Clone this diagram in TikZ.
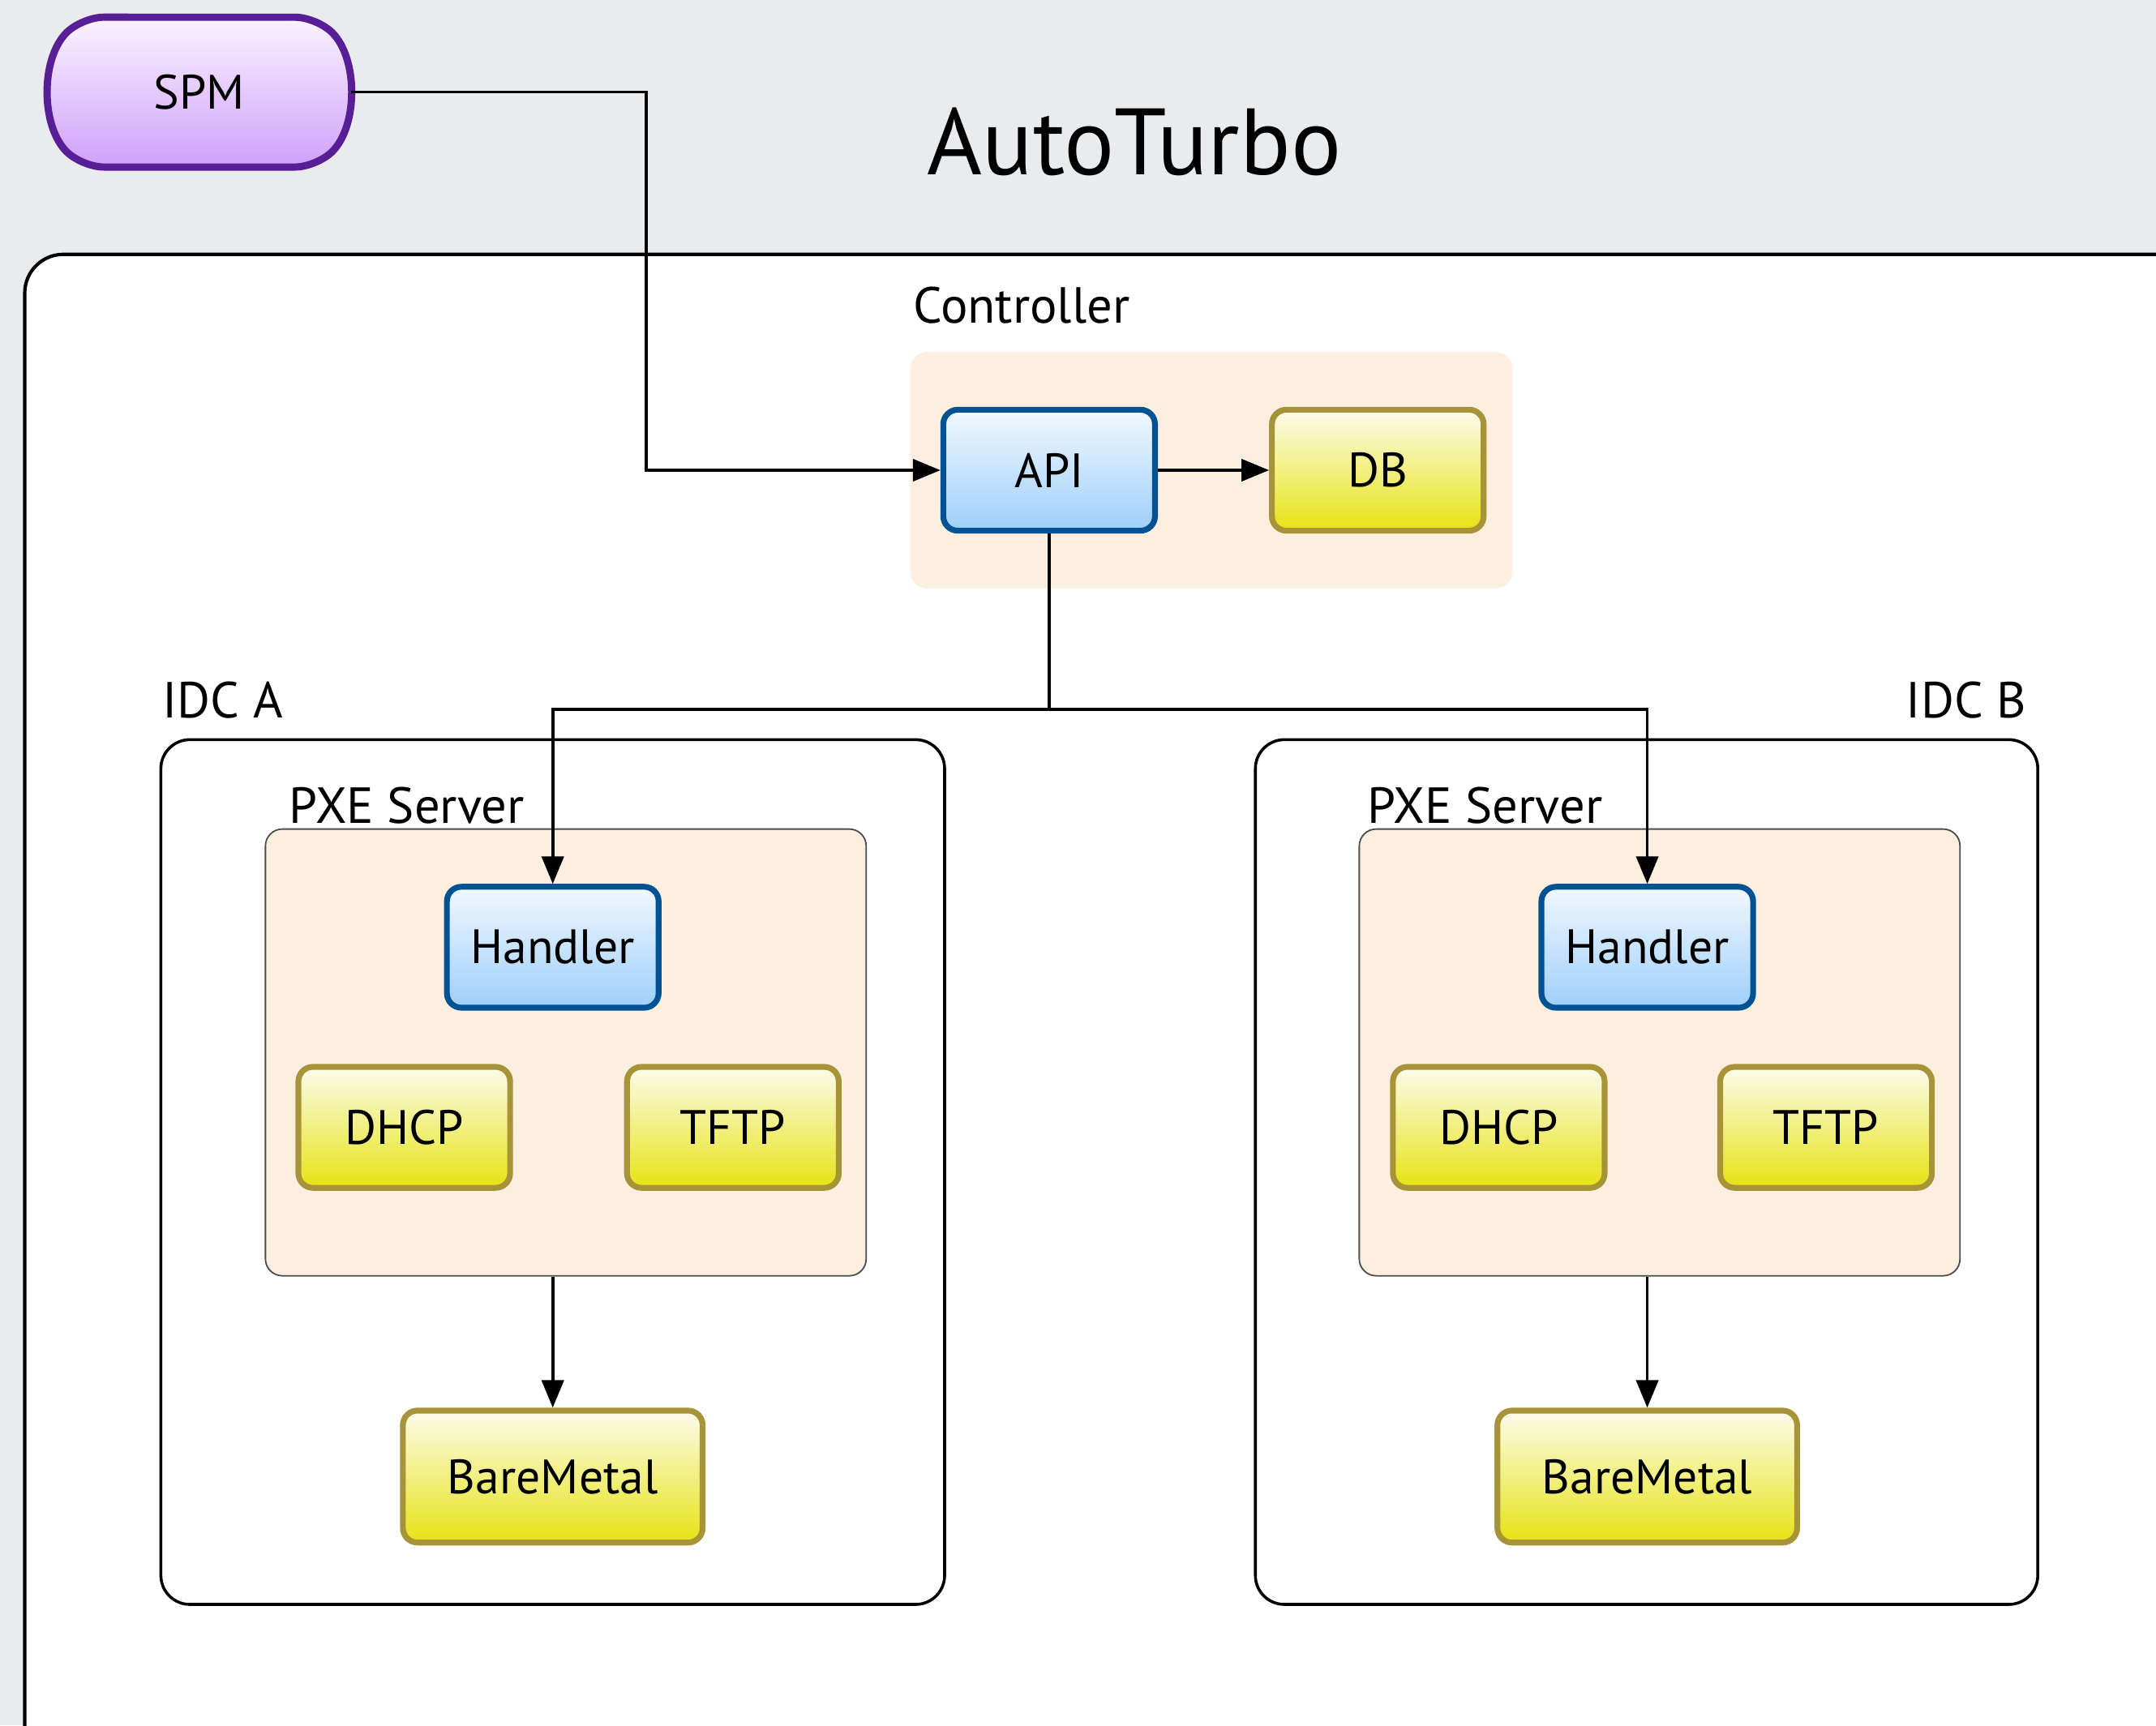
\documentclass[tikz,border=0pt]{standalone}
\usepackage{fontspec}
\setmainfont{PT Sans}
\usepackage{tikz}
\usetikzlibrary{arrows.meta,shapes.misc,calc}
\definecolor{bggray}{RGB}{233,235,237}
\definecolor{peach}{RGB}{253,239,223}
\definecolor{bluedraw}{RGB}{0,82,147}
\definecolor{bluetop}{RGB}{242,248,255}
\definecolor{bluebot}{RGB}{158,207,250}
\definecolor{ydraw}{RGB}{168,148,56}
\definecolor{ytop}{RGB}{252,252,236}
\definecolor{ybot}{RGB}{230,227,20}
\definecolor{pdraw}{RGB}{88,30,150}
\definecolor{ptop}{RGB}{250,244,255}
\definecolor{pbot}{RGB}{208,160,250}
\tikzstyle{comp}=[draw,line width=2.4pt,rounded corners=6pt,minimum width=3.08cm,minimum height=1.76cm,
                  font=\fontsize{20}{24}\selectfont,inner sep=0]
\tikzstyle{svc}=[comp,draw=bluedraw,top color=bluetop,bottom color=bluebot]
\tikzstyle{store}=[comp,draw=ydraw,top color=ytop,bottom color=ybot]
\tikzstyle{client}=[comp,rounded corners=9pt,rounded rectangle,rounded rectangle arc length=90,
                    draw=pdraw,line width=3pt,top color=ptop,bottom color=pbot,
                    minimum width=4.32cm,minimum height=2.18cm]
\tikzstyle{group}=[fill=peach,rounded corners=7pt]
\tikzstyle{pxe}=[draw=black!70,line width=0.6pt,fill=peach,rounded corners=7pt,
                 minimum width=8.74cm,minimum height=6.5cm,inner sep=0]
\tikzstyle{site}=[draw,line width=1.2pt,rounded corners=12pt,fill=white]
\tikzstyle{tag}=[font=\fontsize{21}{25}\selectfont,inner sep=0]
\tikzstyle{conn}=[line width=1.2pt,-{Triangle[length=0.4cm,width=0.32cm]}]

\begin{document}
\begin{tikzpicture}[x=0.02cm,y=-0.02cm]
  \useasboundingbox (0,0) rectangle (1568,1255);
  \clip (0,0) rectangle (1568,1255);
  \fill[bggray] (0,0) rectangle (1568,1255);

  % TITLE & OUTER FRAME
  \node[font=\fontsize{39}{44}\selectfont] (title) at (825,103) {AutoTurbo};
  \draw[site,line width=1.4pt,rounded corners=16pt] (18,185) rectangle (1700,1400);

  % CONTROLLER
  \fill[group] (662,256) rectangle (1100,428);
  \node[tag,anchor=west] (ctrl) at (664,222) {Controller};
  \node[svc] (api) at (763,342) {API};
  \node[store] (db) at (1002,342) {DB};

  % SPM
  \node[client] (spm) at (145,67) {SPM};

  % IDC A
  \draw[site] (117,538) rectangle (687,1167);
  \node[tag,anchor=west] (idcA) at (118,509) {IDC A};
  \node[pxe] (pxeA) at (411.5,765.5) {};
  \node[tag,anchor=west] (pxeAlab) at (210,586) {PXE Server};
  \node[svc] (handlerA) at (402,689) {Handler};
  \node[store] (dhcpA) at (294,820) {DHCP};
  \node[store] (tftpA) at (533,820) {TFTP};
  \node[store,minimum width=4.36cm,minimum height=1.92cm] (bmA) at (402,1074) {BareMetal};

  % IDC B
  \draw[site] (913,538) rectangle (1482,1167);
  \node[tag,anchor=east] (idcB) at (1474,509) {IDC B};
  \node[pxe] (pxeB) at (1207,765.5) {};
  \node[tag,anchor=west] (pxeBlab) at (994,586) {PXE Server};
  \node[svc] (handlerB) at (1198,689) {Handler};
  \node[store] (dhcpB) at (1090,820) {DHCP};
  \node[store] (tftpB) at (1328,820) {TFTP};
  \node[store,minimum width=4.36cm,minimum height=1.92cm] (bmB) at (1198,1074) {BareMetal};

  % CONNECTORS
  \coordinate (spmbend) at (470,200);
  \coordinate (split) at (763,516);
  \draw[conn] (spm.east) -| (spmbend) |- (api.west);
  \draw[conn] (api.east) -- (db.west);
  \draw[line width=1.2pt] (api.south) -- (split);
  \draw[conn] (split) -| (handlerA.north);
  \draw[conn] (split) -| (handlerB.north);
  \draw[conn] (pxeA.south -| bmA.north) -- (bmA.north);
  \draw[conn] (pxeB.south -| bmB.north) -- (bmB.north);

\end{tikzpicture}
\end{document}
